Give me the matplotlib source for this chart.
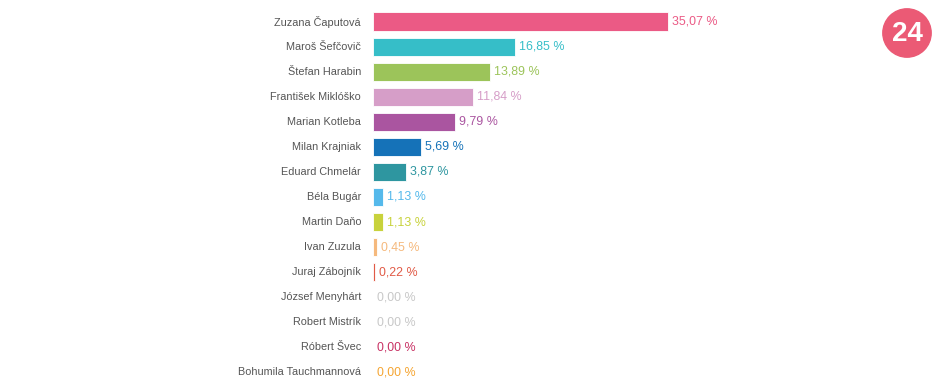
import matplotlib
matplotlib.use('Agg')
import matplotlib.pyplot as plt
from matplotlib.patches import Circle

plt.rcParams['font.family'] = ['Liberation Sans', 'DejaVu Sans']

candidates = ['Zuzana Čaputová', 'Maroš Šefčovič', 'Štefan Harabin', 'František Miklóško',
              'Marian Kotleba', 'Milan Krajniak', 'Eduard Chmelár', 'Béla Bugár',
              'Martin Daňo', 'Ivan Zuzula', 'Juraj Zábojník', 'József Menyhárt',
              'Robert Mistrík', 'Róbert Švec', 'Bohumila Tauchmannová']
values = [35.07, 16.85, 13.89, 11.84, 9.79, 5.69, 3.87, 1.13, 1.13, 0.45, 0.22,
          0.00, 0.00, 0.00, 0.00]
colors = ['#EB5A85', '#36BEC8', '#9CC45A', '#D69EC8', '#AA55A0', '#1572B8', '#2E96A0',
          '#55B9EB', '#C8D23C', '#F5B97D', '#E15A46', '#C8C8C8', '#C8C8C8', '#C83264',
          '#F5A532']

W, H = 950, 382
fig = plt.figure(figsize=(W / 100, H / 100), dpi=100)
x0 = 373
ax = fig.add_axes([x0 / W, 0, 1 - x0 / W, 1])

px_per_unit = 8.41
row = 25.07
top = 21.5
ax.set_xlim(0, (W - x0) / px_per_unit)
ax.set_ylim((H - top) / row, -top / row)

pos = list(range(len(candidates)))
ax.barh(pos, values, height=0.72, color=colors, edgecolor='white', linewidth=0.6)

for i, (name, v, c) in enumerate(zip(candidates, values, colors)):
    ax.text(-12 / px_per_unit, i, name, ha='right', va='center', fontsize=7.8,
            color='#555555', clip_on=False)
    ax.text(v + 4 / px_per_unit, i, f'{v:.2f} %'.replace('.', ','), ha='left',
            va='center', fontsize=8.9, color=c)

ax.axis('off')

# logo
lax = fig.add_axes([(907 - 26) / W, (H - 33 - 26) / H, 52 / W, 52 / H])
lax.set_xlim(-1, 1)
lax.set_ylim(-1, 1)
lax.set_aspect('equal')
lax.add_patch(Circle((0, 0), 0.93, color='#EB5A75'))
lax.text(0, -0.02, '24', ha='center', va='center', fontsize=20, fontweight='bold',
         color='white')
lax.axis('off')

fig.savefig('out.png', dpi=100)
